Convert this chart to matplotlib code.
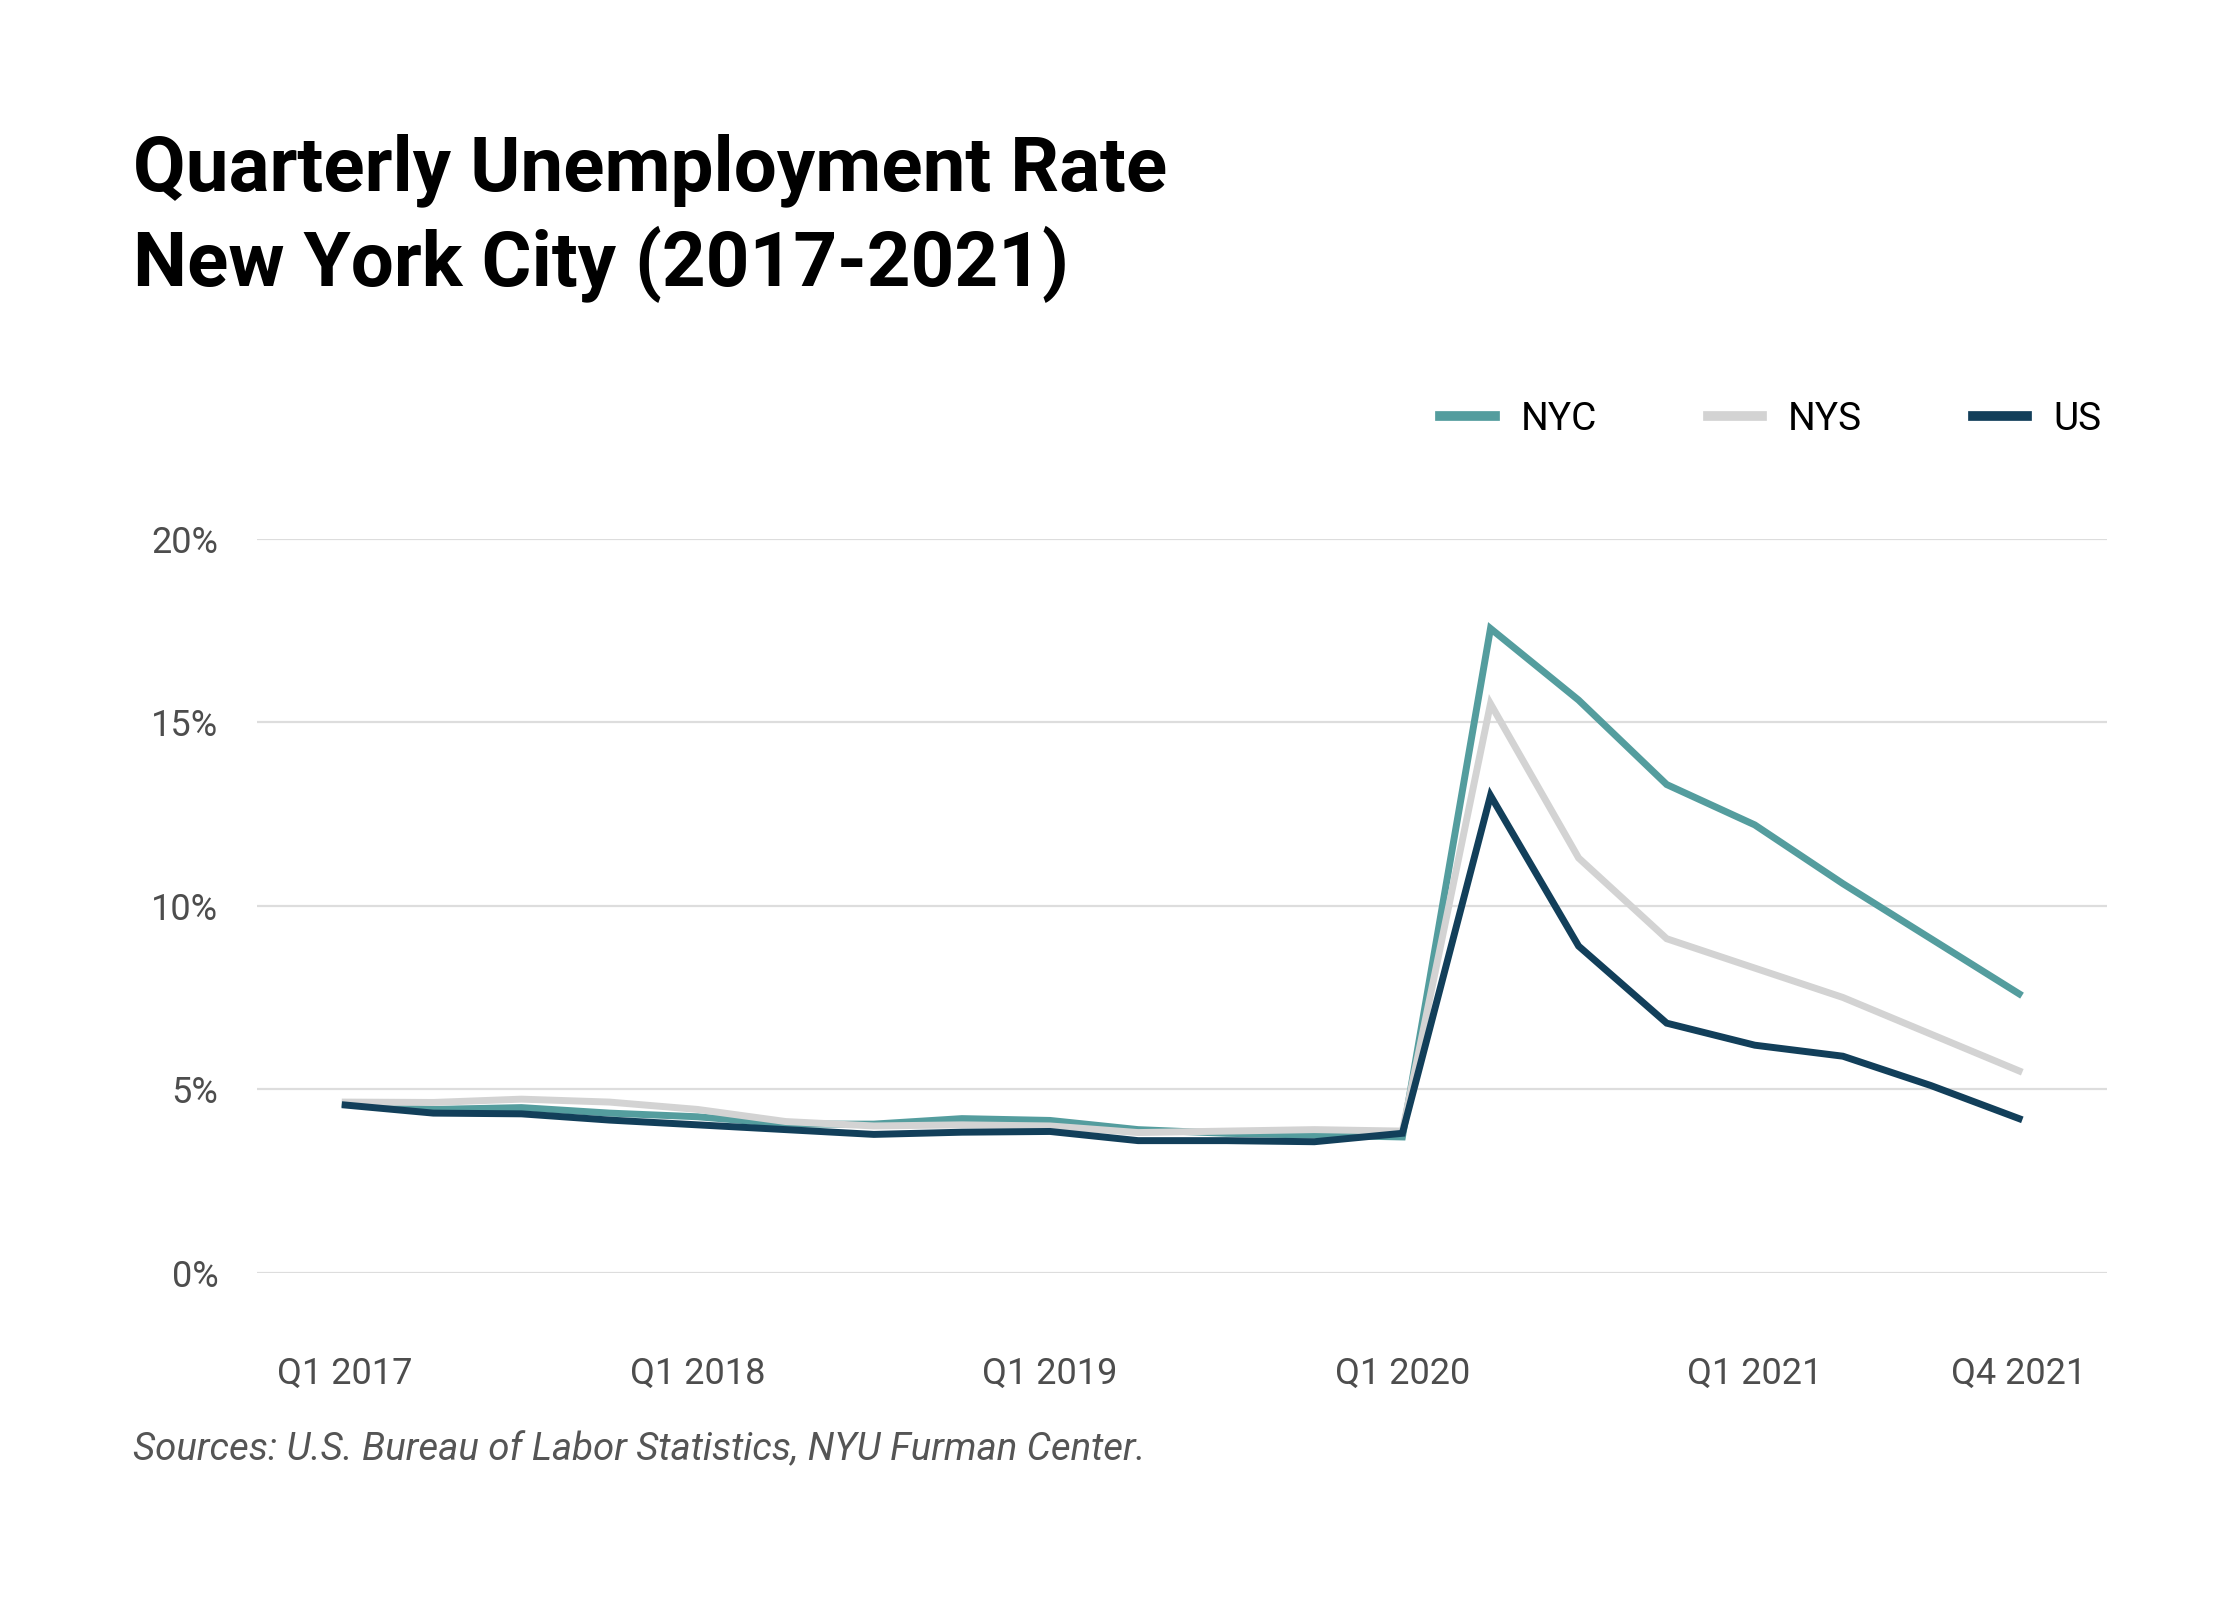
import numpy as np
import matplotlib
matplotlib.use('Agg')
import matplotlib.pyplot as plt
from matplotlib.ticker import FuncFormatter

#data (percent)
quarters = ['Q1 2017','Q2 2017','Q3 2017','Q4 2017',
            'Q1 2018','Q2 2018','Q3 2018','Q4 2018',
            'Q1 2019','Q2 2019','Q3 2019','Q4 2019',
            'Q1 2020','Q2 2020','Q3 2020','Q4 2020',
            'Q1 2021','Q2 2021','Q3 2021','Q4 2021']
nyc = [4.6, 4.45, 4.5, 4.35, 4.25, 4.05, 4.05, 4.2, 4.15, 3.9,
       3.8, 3.75, 3.7, 17.55, 15.6, 13.3, 12.2, 10.6, 9.1, 7.6]
nys = [4.65, 4.64, 4.73, 4.65, 4.45, 4.12, 4.0, 4.03, 4.0, 3.82,
       3.86, 3.9, 3.86, 15.5, 11.3, 9.1, 8.3, 7.5, 6.5, 5.5]
us = [4.57, 4.35, 4.33, 4.16, 4.03, 3.9, 3.77, 3.83, 3.85, 3.6,
      3.6, 3.57, 3.8, 13.0, 8.9, 6.8, 6.2, 5.9, 5.1, 4.2]
tick_idx = [0, 4, 8, 12, 16, 19]
yticks = [0, 5, 10, 15, 20]

#colors
c_nyc = '#549d9e'
c_nys = '#d3d3d3'
c_us = '#123f5a'
c_tick = '#4d4d4d'

sans = ['Roboto', 'DejaVu Sans']

fig = plt.figure(figsize=(11.2, 8), dpi=200)
ax = fig.add_axes([0.1148, 0.2045, 0.8259, 0.4589])

x = np.arange(len(quarters))
ax.plot(x, nyc, color=c_nyc, lw=2.5, label='NYC', solid_joinstyle='miter')
ax.plot(x, nys, color=c_nys, lw=2.5, label='NYS', solid_joinstyle='miter')
ax.plot(x, us, color=c_us, lw=2.5, label='US', solid_joinstyle='miter')

ax.set_xlim(-1, 20)
ax.set_ylim(0, 20)
ax.set_yticks(yticks)
ax.yaxis.set_major_formatter(FuncFormatter(lambda v, p: '%d%%' % v))
ax.set_xticks(tick_idx)
ax.set_xticklabels([quarters[i] for i in tick_idx])
ax.grid(axis='y', color='#dddddd', lw=0.8)
ax.set_axisbelow(True)
for s in ax.spines.values():
    s.set_visible(False)
ax.tick_params(axis='both', length=0, colors=c_tick, labelsize=13)
ax.tick_params(axis='x', pad=30)
ax.tick_params(axis='y', pad=14)
for lab in ax.get_xticklabels() + ax.get_yticklabels():
    lab.set_family(sans)

leg = ax.legend(ncol=3, frameon=False, loc='center right',
                bbox_to_anchor=(0.938, 0.738), bbox_transform=fig.transFigure,
                handlelength=1.4, handletextpad=0.66, columnspacing=2.85,
                prop={'family': sans, 'size': 14}, borderaxespad=0, borderpad=0)
for line in leg.get_lines():
    line.set_linewidth(3.5)

#title
fig.text(0.0593, 0.881, 'Quarterly Unemployment Rate', fontsize=27.5,
         fontweight='bold', family=sans, va='baseline', ha='left')
fig.text(0.0593, 0.821, 'New York City (2017-2021)', fontsize=27.5,
         fontweight='bold', family=sans, va='baseline', ha='left')

#source
fig.text(0.0593, 0.0875, 'Sources: U.S. Bureau of Labor Statistics, NYU Furman Center.',
         fontsize=13.8, style='italic', color='#555555',
         family=sans, va='baseline', ha='left')

plt.savefig('out.png', dpi=200)
